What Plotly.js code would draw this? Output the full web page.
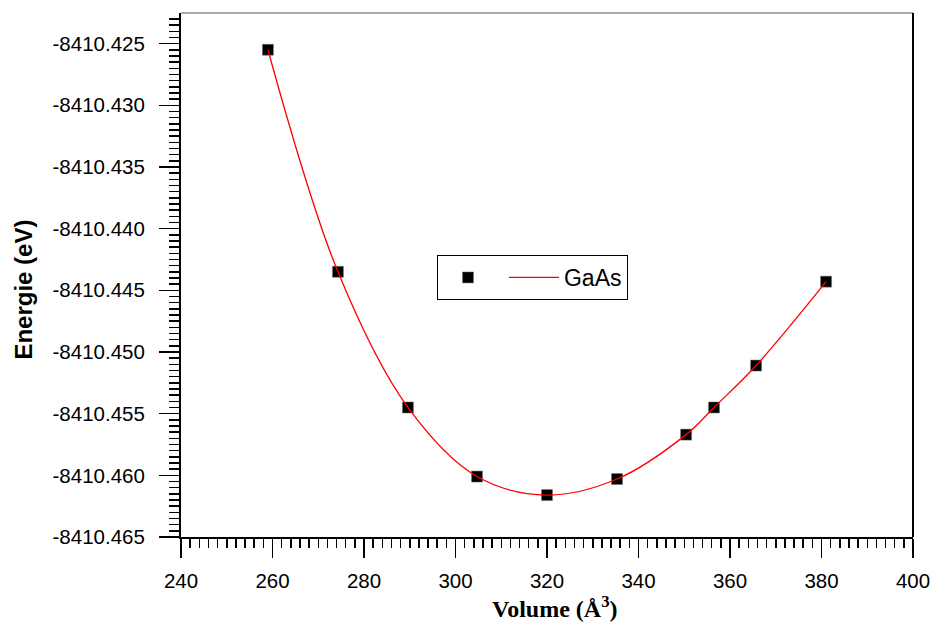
<!DOCTYPE html>
<html>
<head>
<meta charset="utf-8">
<script src="https://cdn.plot.ly/plotly-3.0.1.min.js"></script>
<style>html,body{margin:0;padding:0;background:#fff;}#chart{width:933px;height:623px;}</style>
</head>
<body>
<div id="chart"></div>
<script>
// Data
const volume = [259.0, 274.3, 289.6, 304.7, 320.0, 335.3, 350.4, 356.5, 365.7, 381.0];
const energy = [-8410.4255, -8410.4435, -8410.4545, -8410.4601, -8410.4616, -8410.4603, -8410.4567, -8410.4545, -8410.4511, -8410.4443];
const seriesName = "GaAs";
const xTickVals = [240, 260, 280, 300, 320, 340, 360, 380, 400];
const yTickVals = [-8410.465, -8410.460, -8410.455, -8410.450, -8410.445, -8410.440, -8410.435, -8410.430, -8410.425];
const yTickLabels = ["-8410.465", "-8410.460", "-8410.455", "-8410.450", "-8410.445", "-8410.440", "-8410.435", "-8410.430", "-8410.425"];

const traces = [
  {
    x: volume, y: energy, type: 'scatter', mode: 'markers', name: ' ',
    marker: {symbol: 'square', size: 11, color: '#000', line: {color: '#777', width: 0.5}},
    showlegend: true, legendwidth: 1
  },
  {
    x: volume, y: energy, type: 'scatter', mode: 'lines', name: seriesName,
    line: {color: '#ff0000', width: 1.3, shape: 'spline', smoothing: 1},
    showlegend: true
  }
];

const tickFont = {family: 'Liberation Sans, Arial, sans-serif', size: 20.5, color: '#000'};

const layout = {
  width: 933, height: 623,
  margin: {l: 181, r: 20, t: 13, b: 86},
  paper_bgcolor: '#fff', plot_bgcolor: '#fff',
  showlegend: true,
  legend: {
    orientation: 'h', x: 0.3497, y: 0.4952, xanchor: 'left', yanchor: 'middle',
    bordercolor: '#000', borderwidth: 1, bgcolor: '#fff',
    font: {family: 'Liberation Sans, Arial, sans-serif', size: 23, color: '#000'},
    itemwidth: 50, traceorder: 'normal'
  },
  xaxis: {
    range: [240, 400], tickvals: xTickVals,
    showgrid: false, zeroline: false,
    showline: true, linecolor: '#000', linewidth: 2,
    ticks: 'outside', ticklen: 19, tickwidth: 1.5, tickcolor: '#000',
    ticklabelstandoff: 5,
    minor: {dtick: 2, ticks: 'outside', ticklen: 9, tickwidth: 1.5, tickcolor: '#000', showgrid: false},
    tickfont: tickFont
  },
  yaxis: {
    range: [-8410.465, -8410.42252], tickvals: yTickVals, ticktext: yTickLabels,
    showgrid: false, zeroline: false,
    showline: true, linecolor: '#000', linewidth: 2,
    ticks: 'outside', ticklen: 20, tickwidth: 1.5, tickcolor: '#000',
    ticklabelstandoff: 10,
    minor: {dtick: 0.0005, ticks: 'outside', ticklen: 10, tickwidth: 1.5, tickcolor: '#000', showgrid: false},
    tickfont: tickFont
  },
  shapes: [
    {type: 'line', xref: 'paper', yref: 'paper', x0: 0, x1: 1, y0: 1, y1: 1, line: {color: '#555', width: 1}},
    {type: 'line', xref: 'paper', yref: 'paper', x0: 1, x1: 1, y0: 0, y1: 1, line: {color: '#000', width: 2}}
  ],
  annotations: [
    {text: '<b>Energie (eV)</b>', xref: 'paper', yref: 'paper', x: -0.215, y: 0.4714,
     xanchor: 'center', yanchor: 'middle', textangle: -90, showarrow: false,
     font: {family: 'Liberation Sans, Arial, sans-serif', size: 24, color: '#000'}},
    {text: '<b>Volume (Å<sup>3</sup>)</b>', xref: 'paper', yref: 'paper', x: 0.511, y: -0.166,
     xanchor: 'center', yanchor: 'bottom', showarrow: false,
     font: {family: 'Liberation Serif, Times New Roman, serif', size: 24, color: '#000'}}
  ]
};

Plotly.newPlot('chart', traces, layout, {displayModeBar: false, staticPlot: true});
</script>
</body>
</html>
